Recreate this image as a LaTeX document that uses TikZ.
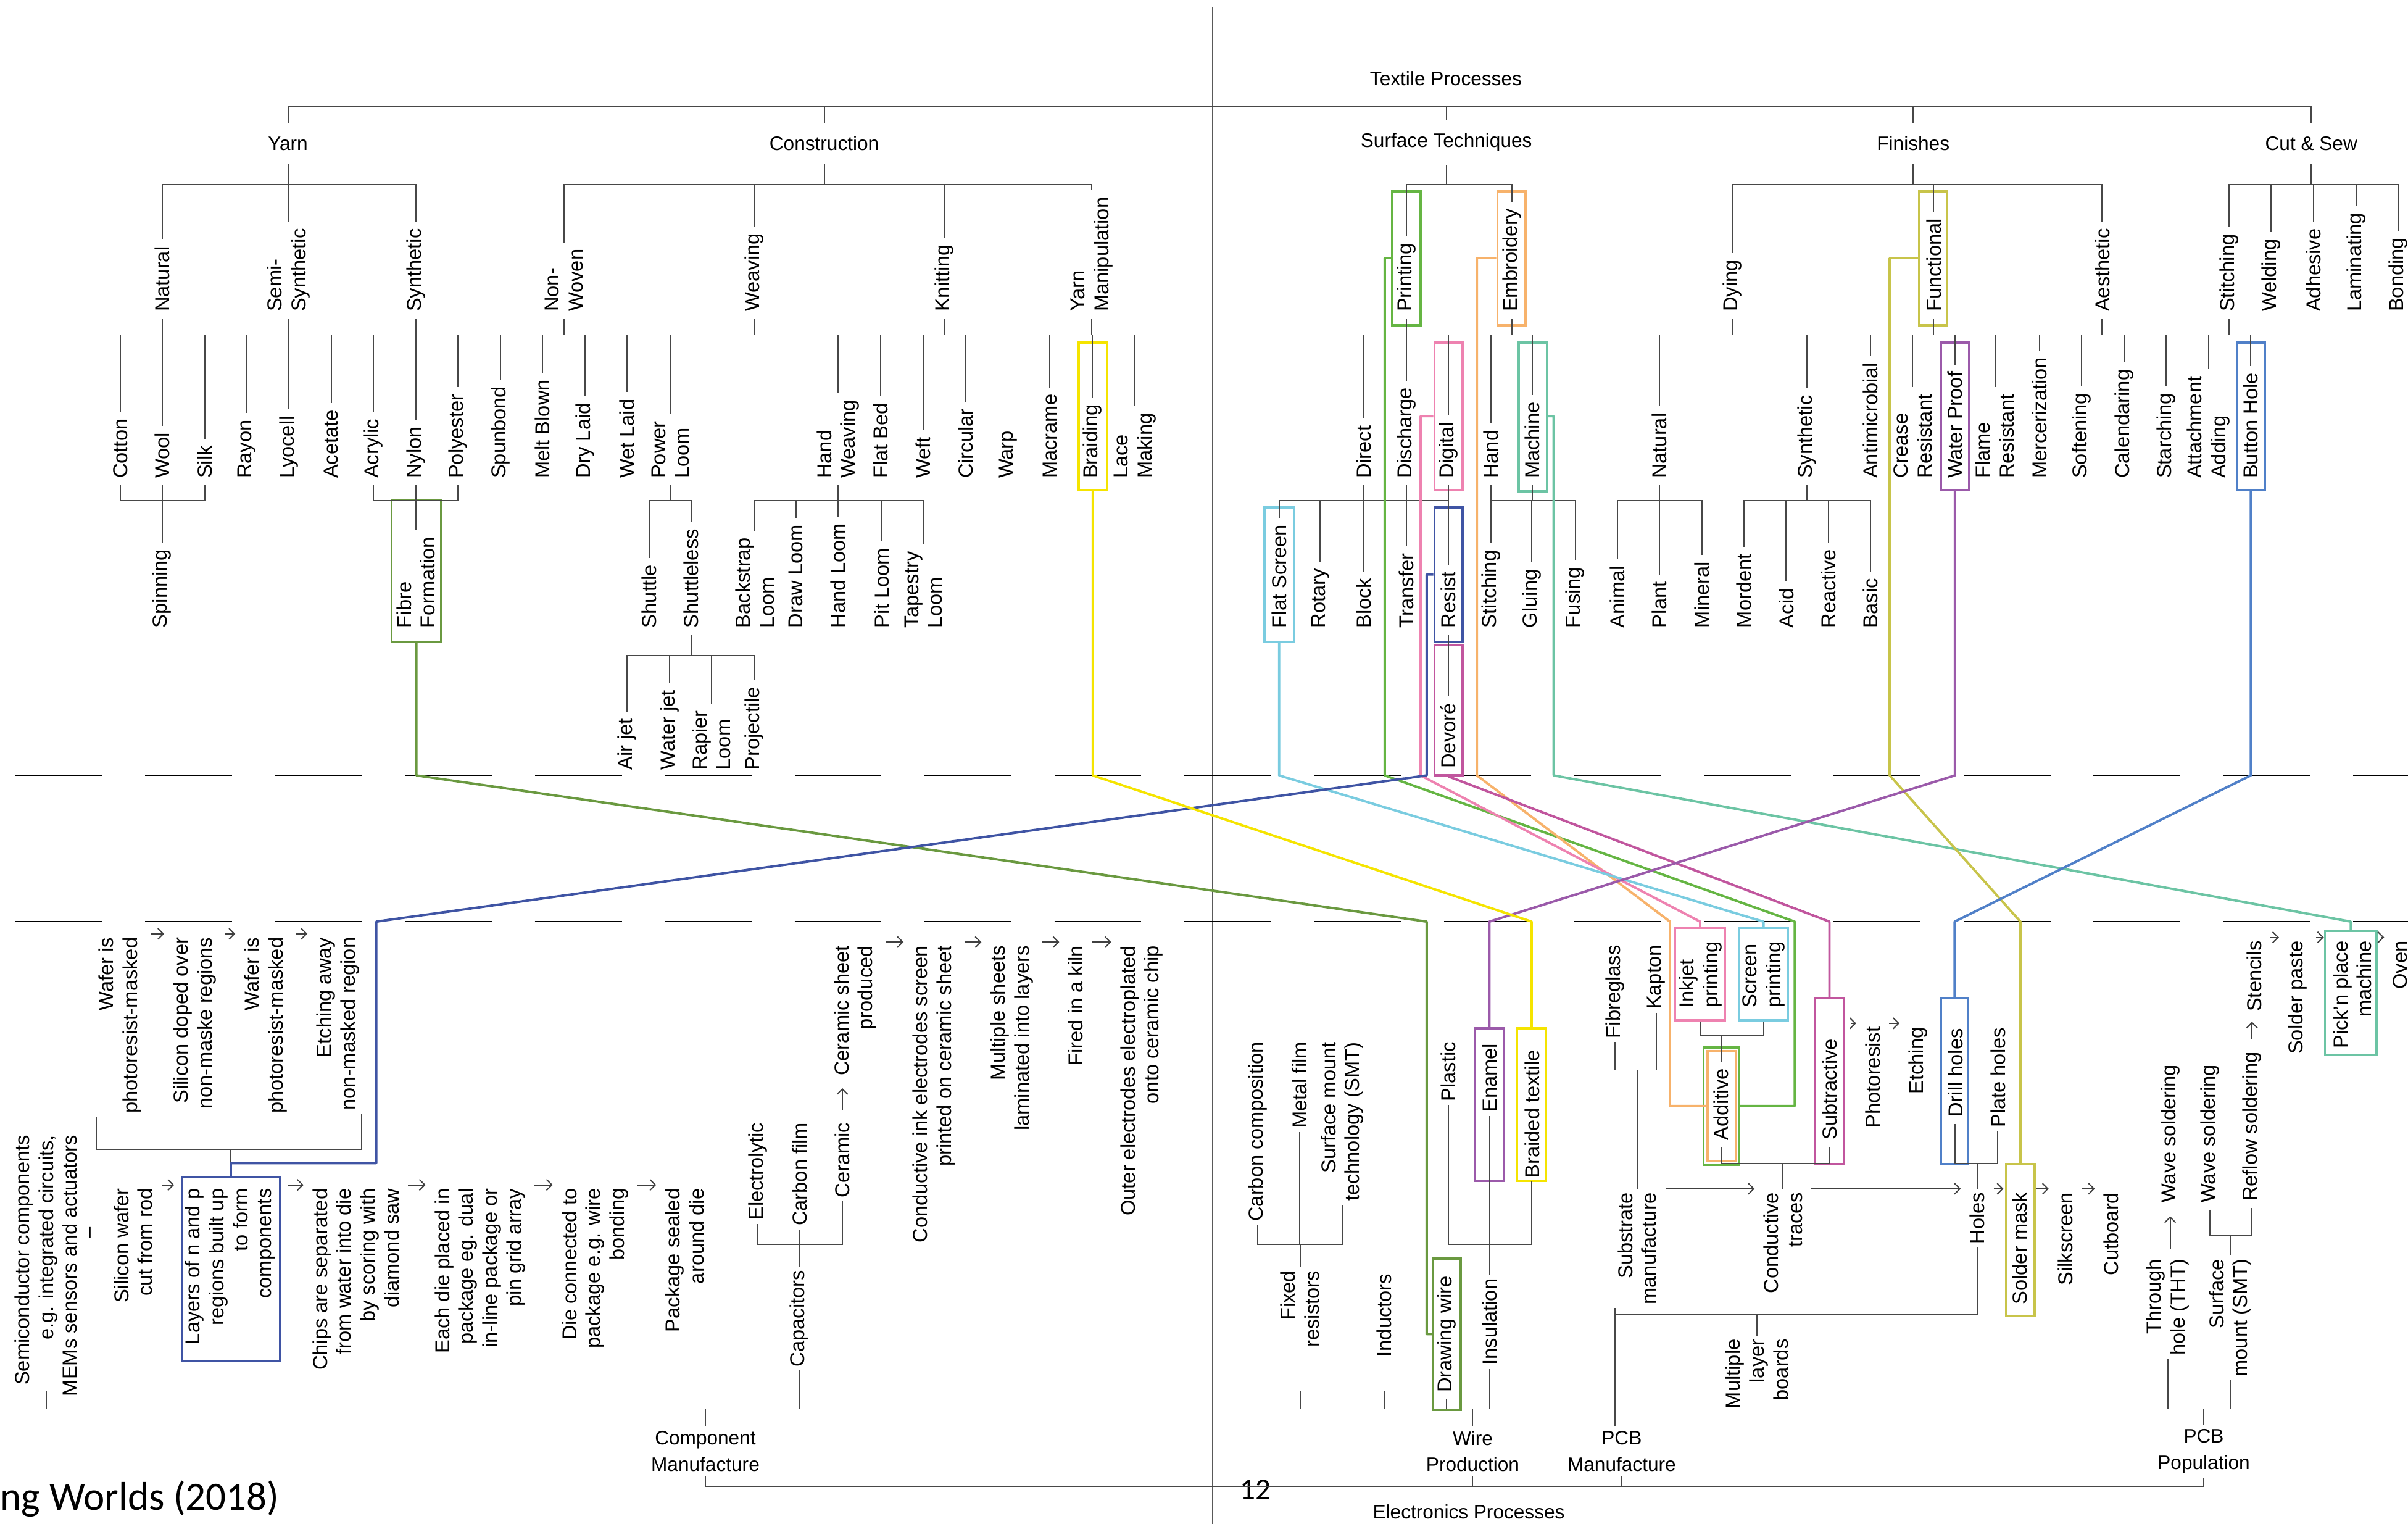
\documentclass[tikz,border=0pt]{standalone}
\usepackage{fontspec}
\setmainfont{Liberation Sans}
\newfontfamily\capfont{Carlito}
\usetikzlibrary{arrows.meta,fit}

\definecolor{fibregrn}{RGB}{106,153,64}
\definecolor{printgrn}{RGB}{101,181,67}
\definecolor{embrorg}{RGB}{247,178,107}
\definecolor{digipink}{RGB}{238,130,176}
\definecolor{machteal}{RGB}{108,196,164}
\definecolor{screencyan}{RGB}{122,204,224}
\definecolor{resistnavy}{RGB}{63,84,164}
\definecolor{devoremag}{RGB}{193,86,158}
\definecolor{braidyel}{RGB}{245,228,0}
\definecolor{funcolive}{RGB}{200,196,74}
\definecolor{wppurple}{RGB}{155,90,170}
\definecolor{bhblue}{RGB}{80,128,200}

\begin{document}
\begin{tikzpicture}[
    x=0.0249cm, y=-0.0249cm,
    every node/.style={font=\fontsize{9.3}{11}\selectfont},
    head/.style={font=\fontsize{9}{12}\selectfont, align=center, inner xsep=2pt, inner ysep=6pt},
    headb/.style={head, inner ysep=2pt},
    vlab/.style={rotate=90, inner xsep=3pt, inner ysep=1pt},
    lab/.style={vlab, anchor=west, align=left},
    labt/.style={vlab, inner xsep=1.5pt, anchor=east, align=right},
    hbox/.style={draw=#1, line width=1pt, inner sep=0pt},
    tree/.style={draw=black!72, line width=0.55pt},
    link/.style={draw=#1, line width=1.1pt, line join=round},
    garr/.style={-{Straight Barb[length=2.5pt,width=5pt]}, draw=black!75, line width=0.55pt, shorten <=3pt, shorten >=3pt},
    dashline/.style={draw=black, line width=0.6pt, dash pattern=on 1.409cm off 0.697cm}
]
\fill[white] (0,0) rectangle (1568,992);
\useasboundingbox (0,0) rectangle (1568,992);

\coordinate (lv69) at (0,69);
\coordinate (lv120) at (0,120);
\coordinate (lv218) at (0,218);
\coordinate (lv326) at (0,326);
\coordinate (lv427) at (0,426.7);
\coordinate (lv505) at (0,504.8);
\coordinate (lv600) at (0,600);
\coordinate (lc168) at (0,168);
\coordinate (lc271) at (0,270.9);
\coordinate (lc374) at (0,374);
\coordinate (lc720) at (0,720);
\coordinate (lc757) at (0,757.2);
\coordinate (lw968) at (0,967.8);
\coordinate (lw917) at (0,917.2);
\coordinate (lw905) at (0,905.5);
\coordinate (lw856) at (0,855.6);
\coordinate (lw810) at (0,810.3);
\coordinate (lw804) at (0,804.2);
\coordinate (lw758) at (0,757.6);
\coordinate (lw748) at (0,748.2);
\coordinate (lw697) at (0,696.6);
\coordinate (lw674) at (0,673.8);

\draw[draw=black!65, line width=0.6pt] (789.7,5) -- (789.7,992);
\draw[dashline] (10,504.8) -- (1568,504.8);
\draw[dashline] (10,600) -- (1568,600);

% textile processes
\node[head] (textile) at (941.5,51) {Textile Processes};
\node[head] (yarn) at (187.5,93.5) {Yarn};
\node[head] (construction) at (536.7,93.5) {Construction};
\node[head] (surface) at (941.8,92.5) {Surface Techniques};
\node[head] (finishes) at (1245.8,93.5) {Finishes};
\node[head] (cutsew) at (1505,93.5) {Cut \& Sew};

\node[lab] (natural) at (105.5,207.4) {Natural};
\node[lab] (semisyn) at (188,207.4) {Semi-\\Synthetic};
\node[lab] (synthetic) at (270.7,207.4) {Synthetic};
\node[lab] (nonwoven) at (367.3,207.4) {Non-\\Woven};
\node[lab] (weaving) at (491,207.4) {Weaving};
\node[lab] (knitting) at (615,207.4) {Knitting};
\node[lab] (yarnman) at (711,207.4) {Yarn\\Manipulation};
\node[lab] (printing) at (915.7,207.4) {Printing};
\node[lab] (embroidery) at (984.4,207.4) {Embroidery};
\node[lab] (dying) at (1128.1,207.4) {Dying};
\node[lab] (functional) at (1259.1,207.4) {Functional};
\node[lab] (aesthetic) at (1368.8,207.4) {Aesthetic};
\node[lab] (stitching) at (1451.5,207.4) {Stitching};
\node[lab] (welding) at (1478.8,207.4) {Welding};
\node[lab] (adhesive) at (1506.5,207.4) {Adhesive};
\node[lab] (laminating) at (1534.1,207.4) {Laminating};
\node[lab] (bonding) at (1561.5,207.4) {Bonding};

\node[lab] (cotton) at (78.3,315.9) {Cotton};
\node[lab] (wool) at (105.5,315.9) {Wool};
\node[lab] (silk) at (133.3,315.9) {Silk};
\node[lab] (rayon) at (160.7,315.9) {Rayon};
\node[lab] (lyocell) at (188,315.9) {Lyocell};
\node[lab] (acetate) at (215.7,315.9) {Acetate};
\node[lab] (acrylic) at (243.3,315.9) {Acrylic};
\node[lab] (nylon) at (270.7,315.9) {Nylon};
\node[lab] (polyester) at (298.3,315.9) {Polyester};
\node[lab] (spunbond) at (326,315.9) {Spunbond};
\node[lab] (meltblown) at (353.3,315.9) {Melt Blown};
\node[lab] (drylaid) at (381,315.9) {Dry Laid};
\node[lab] (wetlaid) at (408.3,315.9) {Wet Laid};
\node[lab] (powerloom) at (436.5,315.9) {Power\\Loom};
\node[lab] (handweaving) at (545.7,315.9) {Hand\\Weaving};
\node[lab] (flatbed) at (573.4,315.9) {Flat Bed};
\node[lab] (weft) at (601.1,315.9) {Weft};
\node[lab] (circular) at (628.7,315.9) {Circular};
\node[lab] (warp) at (656.4,315.9) {Warp};
\node[lab] (macrame) at (683.7,315.9) {Macrame};
\node[lab] (braiding) at (711.4,315.9) {Braiding};
\node[lab] (lace) at (739,315.9) {Lace\\Making};
\node[lab] (direct) at (888,315.9) {Direct};
\node[lab] (discharge) at (915.7,315.9) {Discharge};
\node[lab] (digital) at (943,315.9) {Digital};
\node[lab] (hand) at (970.7,315.9) {Hand};
\node[lab] (machine) at (997.7,315.9) {Machine};
\node[lab] (natural2) at (1080.5,315.9) {Natural};
\node[lab] (synthetic2) at (1176.5,315.9) {Synthetic};
\node[lab] (antimicrobial) at (1218.1,315.9) {Antimicrobial};
\node[lab] (crease) at (1245.5,315.9) {Crease\\Resistant};
\node[lab] (waterproof) at (1273.1,315.9) {Water Proof};
\node[lab] (flame) at (1299,315.9) {Flame\\Resistant};
\node[lab] (mercerization) at (1328.1,315.9) {Mercerization};
\node[lab] (softening) at (1355.5,315.9) {Softening};
\node[lab] (calendaring) at (1383.1,315.9) {Calendaring};
\node[lab] (starching) at (1410.5,315.9) {Starching};
\node[lab] (attachment) at (1438.1,315.9) {Attachment\\Adding};
\node[lab] (buttonhole) at (1465.5,315.9) {Button Hole};

\node[lab] (spinning) at (105.5,413.2) {Spinning};
\node[lab] (fibre) at (270.7,413.2) {Fibre\\Formation};
\node[lab] (shuttle) at (422.7,413.2) {Shuttle};
\node[lab] (shuttleless) at (450,413.2) {Shuttleless};
\node[lab] (backstrap) at (491.5,413.2) {Backstrap\\Loom};
\node[lab] (drawloom) at (518.3,413.2) {Draw Loom};
\node[lab] (handloom) at (545.7,413.2) {Hand Loom};
\node[lab] (pitloom) at (574,413.2) {Pit Loom};
\node[lab] (tapestry) at (601.3,413.2) {Tapestry\\Loom};
\node[lab] (flatscreen) at (833,413.2) {Flat Screen};
\node[lab] (rotary) at (859.7,413.2) {Rotary};
\node[lab] (block) at (888,413.2) {Block};
\node[lab] (transfer) at (915.7,413.2) {Transfer};
\node[lab] (resist) at (943,413.2) {Resist};
\node[lab] (stitchingb) at (970.7,413.2) {Stitching};
\node[lab] (gluing) at (997.5,413.2) {Gluing};
\node[lab] (fusing) at (1025.7,413.2) {Fusing};
\node[lab] (animal) at (1053.1,413.2) {Animal};
\node[lab] (plant) at (1080.5,413.2) {Plant};
\node[lab] (mineral) at (1108.1,413.2) {Mineral};
\node[lab] (mordent) at (1135.5,413.2) {Mordent};
\node[lab] (acid) at (1163.1,413.2) {Acid};
\node[lab] (reactive) at (1190.5,413.2) {Reactive};
\node[lab] (basic) at (1218.1,413.2) {Basic};

\node[lab] (airjet) at (408.3,505.8) {Air jet};
\node[lab] (waterjet) at (436,505.8) {Water jet};
\node[lab] (rapier) at (463.3,505.8) {Rapier\\Loom};
\node[lab] (projectile) at (491,505.8) {Projectile};
\node[lab] (devore) at (943,504.7) {Devoré};

\node[hbox=printgrn, fit={(906.4,124.5) (925,211.7)}] (printingbox) {};
\node[hbox=embrorg, fit={(975,124.5) (993.4,211.7)}] (embroiderybox) {};
\node[hbox=funcolive, fit={(1249.8,124.5) (1268.1,211.7)}] (functionalbox) {};
\node[hbox=braidyel, fit={(702.4,223) (720.7,319)}] (braidingbox) {};
\node[hbox=digipink, fit={(934,223) (952.4,319)}] (digitalbox) {};
\node[hbox=machteal, fit={(989,223) (1007.4,319.8)}] (machinebox) {};
\node[hbox=wppurple, fit={(1263.8,223) (1282.1,319)}] (waterproofbox) {};
\node[hbox=bhblue, fit={(1456.5,223) (1474.8,319)}] (buttonholebox) {};
\node[hbox=fibregrn, fit={(255,325.5) (287.3,418)}] (fibrebox) {};
\node[hbox=screencyan, fit={(823.4,330.4) (842.4,418)}] (flatscreenbox) {};
\node[hbox=resistnavy, fit={(934,330.4) (952.4,418)}] (resistbox) {};
\node[hbox=devoremag, fit={(934,420.1) (952.4,504.8)}] (devorebox) {};

\draw[tree] (yarn.north) -- (yarn.north |- lv69) -- (cutsew.north |- lv69) -- (cutsew.north);
\foreach \src in {construction,surface,finishes}
  \draw[tree] (\src.north) -- (\src.north |- lv69);

\foreach \kid in {natural,semisyn,synthetic}
  \draw[tree] (yarn.south) -- (yarn.south |- lv120) -| (\kid.east);
\foreach \kid in {nonwoven,weaving,knitting,yarnman}
  \draw[tree] (construction.south) -- (construction.south |- lv120) -| (\kid.east);
\foreach \kid in {printing,embroidery}
  \draw[tree] (surface.south) -- (surface.south |- lv120) -| (\kid.east);
\foreach \kid in {dying,functional,aesthetic}
  \draw[tree] (finishes.south) -- (finishes.south |- lv120) -| (\kid.east);
\foreach \kid in {stitching,welding,adhesive,laminating,bonding}
  \draw[tree] (cutsew.south) -- (cutsew.south |- lv120) -| (\kid.east);

\foreach \kid in {cotton,wool,silk}
  \draw[tree] (natural.west) -- (natural.west |- lv218) -| (\kid.east);
\foreach \kid in {rayon,lyocell,acetate}
  \draw[tree] (semisyn.west) -- (semisyn.west |- lv218) -| (\kid.east);
\foreach \kid in {acrylic,nylon,polyester}
  \draw[tree] (synthetic.west) -- (synthetic.west |- lv218) -| (\kid.east);
\foreach \kid in {spunbond,meltblown,drylaid,wetlaid}
  \draw[tree] (nonwoven.west) -- (nonwoven.west |- lv218) -| (\kid.east);
\foreach \kid in {powerloom,handweaving}
  \draw[tree] (weaving.west) -- (weaving.west |- lv218) -| (\kid.east);
\foreach \kid in {flatbed,weft,circular,warp}
  \draw[tree] (knitting.west) -- (knitting.west |- lv218) -| (\kid.east);
\foreach \kid in {macrame,braiding,lace}
  \draw[tree] (yarnman.west) -- (yarnman.west |- lv218) -| (\kid.east);
\foreach \kid in {direct,discharge,digital}
  \draw[tree] (printing.west) -- (printing.west |- lv218) -| (\kid.east);
\foreach \kid in {hand,machine}
  \draw[tree] (embroidery.west) -- (embroidery.west |- lv218) -| (\kid.east);
\foreach \kid in {natural2,synthetic2}
  \draw[tree] (dying.west) -- (dying.west |- lv218) -| (\kid.east);
\foreach \kid in {antimicrobial,crease,waterproof,flame}
  \draw[tree] (functional.west) -- (functional.west |- lv218) -| (\kid.east);
\foreach \kid in {mercerization,softening,calendaring,starching}
  \draw[tree] (aesthetic.west) -- (aesthetic.west |- lv218) -| (\kid.east);
\foreach \kid in {attachment,buttonhole}
  \draw[tree] (stitching.west) -- (stitching.west |- lv218) -| (\kid.east);

\foreach \src in {cotton,wool,silk}
  \draw[tree] (\src.west) -- (\src.west |- lv326) -| (spinning.east);
\foreach \src in {acrylic,nylon,polyester}
  \draw[tree] (\src.west) -- (\src.west |- lv326) -| (fibre.east);
\foreach \kid in {shuttle,shuttleless}
  \draw[tree] (powerloom.west) -- (powerloom.west |- lv326) -| (\kid.east);
\foreach \kid in {backstrap,drawloom,handloom,pitloom,tapestry}
  \draw[tree] (handweaving.west) -- (handweaving.west |- lv326) -| (\kid.east);
\foreach \kid in {flatscreen,rotary,block,transfer,resist}
  \draw[tree] (direct.west) -- (direct.west |- lv326) -| (\kid.east);
\foreach \src in {discharge,digital}
  \draw[tree] (\src.west) -- (\src.west |- lv326);
\draw[tree] (hand.west) -- (stitchingb.east);
\foreach \kid in {stitchingb,gluing,fusing}
  \draw[tree] (machine.west) -- (machine.west |- lv326) -| (\kid.east);
\foreach \kid in {animal,plant,mineral}
  \draw[tree] (natural2.west) -- (natural2.west |- lv326) -| (\kid.east);
\foreach \kid in {mordent,acid,reactive,basic}
  \draw[tree] (synthetic2.west) -- (synthetic2.west |- lv326) -| (\kid.east);
\foreach \kid in {airjet,waterjet,rapier,projectile}
  \draw[tree] (shuttleless.west) -- (shuttleless.west |- lv427) -| (\kid.east);
\draw[tree] (resist.west) -- (devore.east);

% electronics processes
\node[head] (electronics) at (956.4,984) {Electronics Processes};
\node[headb] (compman) at (459.3,944.8) {Component\\Manufacture};
\node[headb] (wireprod) at (959,944.8) {Wire\\Production};
\node[headb] (pcbman) at (1056,944.8) {PCB\\Manufacture};
\node[headb] (pcbpop) at (1435,944.8) {PCB\\Population};

\node[labt] (wafera) at (78.3,607.9) {Wafer is\\photoresist-masked};
\node[labt] (dope) at (126.7,607.9) {Silicon doped over\\non-maske regions};
\node[labt] (waferb) at (173,607.9) {Wafer is\\photoresist-masked};
\node[labt] (etchaway) at (220,607.9) {Etching away\\non-masked region};

\node[labt] (semicond) at (30,736.6) {Semiconductor components\\e.g. integrated circuits,\\MEMs sensors and actuators};
\node[vlab] (semidash) at (60,802.5) {--};
\node[labt] (siwafer) at (86.7,771.4) {Silicon wafer\\cut from rod};
\node[labt] (layers) at (150,771.4) {Layers of n and p\\regions built up\\to form\\components};
\node[hbox=resistnavy, fit={(118.3,766.3) (182.3,886)}] (layersbox) {};
\node[labt] (chips) at (231.7,771.4) {Chips are separated\\from water into die\\by scoring with\\diamond saw};
\node[labt] (eachdie) at (312.5,771.4) {Each die placed in\\package eg. dual\\in-line package or\\pin grid array};
\node[labt] (dieconn) at (387.5,771.4) {Die connected to\\package e.g. wire\\bonding};
\node[labt] (pkgseal) at (445.8,771.4) {Package sealed\\around die};

\node[labt] (capacitors) at (520.6,824.6) {Capacitors};
\node[labt] (electrolytic) at (493.4,728.5) {Electrolytic};
\node[labt] (carbonfilm) at (520.6,728.5) {Carbon film};
\node[labt] (ceramic) at (548.5,728.5) {Ceramic};
\node[labt] (ceramicsheet) at (557,613.3) {Ceramic sheet\\produced};
\node[labt] (condink) at (608.2,613.3) {Conductive ink electrodes screen\\printed on ceramic sheet};
\node[labt] (multisheet) at (658.9,613.3) {Multiple sheets\\laminated into layers};
\node[labt] (kiln) at (700.5,613.3) {Fired in a kiln};
\node[labt] (outerel) at (743.4,613.3) {Outer electrodes electroplated\\onto ceramic chip};

\node[labt] (fixedres) at (846.5,825) {Fixed\\resistors};
\node[labt] (carboncomp) at (819,676) {Carbon composition};
\node[labt] (metalfilm) at (846.4,676) {Metal film};
\node[labt] (smtres) at (874,676) {Surface mount\\technology (SMT)};
\node[labt] (inductors) at (901.4,827) {Inductors};

\node[vlab] (drawing) at (942,868.6) {Drawing wire};
\node[hbox=fibregrn, fit={(932.9,819.4) (951.2,917.8)}] (drawingbox) {};
\node[labt] (insulation) at (970,830.1) {Insulation};
\node[labt] (plastic) at (943,676) {Plastic};
\node[labt] (enamel) at (970,677.1) {Enamel};
\node[hbox=wppurple, fit={(960.3,669.4) (979.3,768.7)}] (enamelbox) {};
\node[labt] (braided) at (997.5,681.3) {Braided textile};
\node[hbox=braidyel, fit={(988,669.4) (1006.7,768.7)}] (braidedbox) {};

\node[labt] (fibreglass) at (1051.6,613) {Fibreglass};
\node[labt] (kapton) at (1078.5,613) {Kapton};
\node[labt] (substrate) at (1066,773.9) {Substrate\\manufacture};
\node[labt] (multilayer) at (1144,869.4) {Multiple\\layer\\boards};
\node[lab] (inkjet) at (1107.2,660.5) {Inkjet\\printing};
\node[hbox=digipink, fit={(1090.8,604.2) (1123.3,664.3)}] (inkjetbox) {};
\node[lab] (screenpr) at (1148.4,660.5) {Screen\\printing};
\node[hbox=screencyan, fit={(1132.3,604.2) (1164.3,664.3)}] (screenbox) {};
\node[vlab] (additive) at (1120.8,719) {Additive};
\node[hbox=printgrn, fit={(1109.2,681.9) (1132.3,758.2)}] (addouter) {};
\node[hbox=embrorg, fit={(1111.8,684.2) (1130.2,755.8)}] (addinner) {};
\node[vlab] (subtractive) at (1191.2,709.2) {Subtractive};
\node[hbox=devoremag, fit={(1181.8,650) (1200.7,757.6)}] (subtractbox) {};
\node[labt] (photoresist) at (1219.4,666.2) {Photoresist};
\node[labt] (etching) at (1248.9,666.2) {Etching};
\node[labt] (traces) at (1161,773.9) {Conductive\\traces};
\node[vlab] (drill) at (1273.2,698.4) {Drill holes};
\node[hbox=bhblue, fit={(1263.8,650) (1281.7,757.6)}] (drillbox) {};
\node[labt] (plate) at (1300.9,666.7) {Plate holes};
\node[labt] (holes) at (1287.5,773.9) {Holes};
\node[labt] (soldermask) at (1315.3,773.9) {Solder mask};
\node[hbox=funcolive, fit={(1306.4,757.8) (1324.8,856.6)}] (solderbox) {};
\node[labt] (silkscreen) at (1344.8,773.9) {Silkscreen};
\node[labt] (cutboard) at (1374.8,773.9) {Cutboard};

\node[labt] (tht) at (1411.5,817.3) {Through\\hole (THT)};
\node[lab] (wavea) at (1413.1,787.6) {Wave soldering};
\node[labt] (smt) at (1452.3,817.3) {Surface\\mount (SMT)};
\node[lab] (waveb) at (1439.1,787.6) {Wave soldering};
\node[lab] (reflow) at (1466.4,786.5) {Reflow soldering};
\node[labt] (stencils) at (1467.7,610.2) {Stencils};
\node[labt] (solderpaste) at (1496,610.2) {Solder paste};
\node[labt] (picknplace) at (1531.7,610.2) {Pick'n place\\machine};
\node[hbox=machteal, fit={(1514,606) (1547.5,687)}] (pickbox) {};
\node[labt] (oven) at (1563,610.2) {Oven};

\node[font=\capfont\fontsize{18.5}{20}\selectfont, anchor=base west, inner sep=0pt] (caption) at (0,983) {ng Worlds (2018)};
\node[font=\capfont\fontsize{14}{16}\selectfont, inner sep=0pt] (pagenum) at (817.4,969.8) {12};

\draw[tree] (compman.south) -- (compman.south |- lw968) -- (pcbpop.south |- lw968) -- (pcbpop.south);
\foreach \src in {wireprod,pcbman}
  \draw[tree] (\src.south) -- (\src.south |- lw968);
\foreach \kid in {semicond,fixedres,inductors}
  \draw[tree] (compman.north) -- (compman.north |- lw917) -| (\kid.west |- lw905);
\draw[tree] (compman.north) -- (compman.north |- lw917) -| (capacitors.west);
\foreach \kid in {electrolytic,carbonfilm,ceramic}
  \draw[tree] (capacitors.east) -- (capacitors.east |- lw810) -| (\kid.west);
\foreach \kid in {carboncomp,metalfilm,smtres}
  \draw[tree] (fixedres.east) -- (fixedres.east |- lw810) -| (\kid.west);

\draw[tree] (wafera.north west) |- (layersbox.north |- lw748) -- (layersbox.north);
\draw[tree] (etchaway.south west) |- (layersbox.north |- lw748);
\draw[garr] (wafera.south east) -- (dope.north east);
\draw[garr] (dope.south east) -- (waferb.north east);
\draw[garr] (waferb.south east) -- (etchaway.north east);
\draw[garr] (siwafer.south east) -- (siwafer.south east -| layersbox.west);
\draw[garr] (layersbox.east |- chips.north east) -- (chips.north east);
\draw[garr] (chips.south east) -- (eachdie.north east);
\draw[garr] (eachdie.south east) -- (dieconn.north east);
\draw[garr] (dieconn.south east) -- (pkgseal.north east);

\draw[garr, shorten <=4pt, shorten >=4pt] (ceramic.east) -- (ceramic.east |- ceramicsheet.west);
\draw[garr] (ceramicsheet.south east) -- (condink.north east);
\draw[garr] (condink.south east) -- (multisheet.north east);
\draw[garr] (multisheet.south east) -- (kiln.north east);
\draw[garr] (kiln.south east) -- (outerel.north east);

\foreach \kid in {drawing,insulation}
  \draw[tree] (wireprod.north) -- (wireprod.north |- lw917) -| (\kid.west);
\foreach \kid in {plastic,enamel,braided}
  \draw[tree] (insulation.east) -- (insulation.east |- lw810) -| (\kid.west);

\draw[tree] (pcbman.north -| substrate.north west) -- (substrate.north west);
\draw[tree] (substrate.north west |- lw856) -| (holes.west);
\draw[tree] (multilayer.east) -- (multilayer.east |- lw856);
\foreach \kid in {fibreglass,kapton}
  \draw[tree] (\kid.west) |- (substrate.east |- lw697) -- (substrate.east);
\foreach \kid in {inkjetbox,screenbox}
  \draw[tree] (\kid.south) |- (additive.east |- lw674) -- (additive.east);
\foreach \kid in {additive,subtractive}
  \draw[tree] (\kid.west) |- (traces.east |- lw758) -- (traces.east);
\foreach \kid in {drill,plate}
  \draw[tree] (\kid.west) |- (holes.east |- lw758) -- (holes.east);
\draw[garr] (substrate.south east) -- (traces.north east);
\draw[garr] (traces.south east) -- (holes.north east);
\draw[garr] (holes.south east) -- (soldermask.north east);
\draw[garr] (soldermask.south east) -- (silkscreen.north east);
\draw[garr] (silkscreen.south east) -- (cutboard.north east);
\draw[garr] (subtractbox.east |- photoresist.north east) -- (photoresist.north east);
\draw[garr] (photoresist.south east) -- (etching.north east);

\foreach \kid in {tht,smt}
  \draw[tree] (\kid.west) |- (pcbpop.north |- lw917) -- (pcbpop.north);
\foreach \kid in {waveb,reflow}
  \draw[tree] (\kid.west) |- (smt.east |- lw804) -- (smt.east);
\draw[garr] (wavea.west |- tht.east) -- (wavea.west);
\draw[garr] (reflow.east) -- (reflow.east |- stencils.west);
\draw[garr] (stencils.south east) -- (solderpaste.north east);
\draw[garr] (solderpaste.south east) -- (picknplace.north east);
\draw[garr] (picknplace.south east) -- (oven.north east);

% links textile -> electronics
\draw[link=fibregrn] (fibrebox.south) -- (fibrebox.south |- lv505) -- (929,600) |- (drawingbox.west);
\draw[link=printgrn] (printingbox.west |- lc168) -| (901.7,504.8) -- (1168.7,600) |- (addouter.east |- lc720);
\draw[link=embrorg] (embroiderybox.west |- lc168) -| (961.7,504.8) -- (1087.4,600) |- (addinner.west |- lc720);
\draw[link=digipink] (digitalbox.west |- lc271) -| (925,504.8) -- (inkjetbox.north |- lv600) -- (inkjetbox.north);
\draw[link=machteal] (machinebox.east |- lc271) -| (1011.7,504.8) -- (pickbox.north |- lv600) -- (pickbox.north);
\draw[link=screencyan] (flatscreenbox.south) -- (flatscreenbox.south |- lv505) -- (screenbox.north |- lv600) -- (screenbox.north);
\draw[link=resistnavy] (resistbox.west |- lc374) -| (929,504.8) -- (245,600) |- (layersbox.north |- lc757) -- (layersbox.north);
\draw[link=devoremag] (devorebox.south) -- (subtractbox.north |- lv600) -- (subtractbox.north);
\draw[link=funcolive] (functionalbox.west |- lc168) -| (1230.5,504.8) -- (solderbox.north |- lv600) -- (solderbox.north);
\draw[link=wppurple] (waterproofbox.south) -- (waterproofbox.south |- lv505) -- (enamelbox.north |- lv600) -- (enamelbox.north);
\draw[link=bhblue] (buttonholebox.south) -- (buttonholebox.south |- lv505) -- (drillbox.north |- lv600) -- (drillbox.north);
\draw[link=braidyel] (braidingbox.south) -- (braidingbox.south |- lv505) -- (braidedbox.north |- lv600) -- (braidedbox.north);
\end{tikzpicture}
\end{document}
